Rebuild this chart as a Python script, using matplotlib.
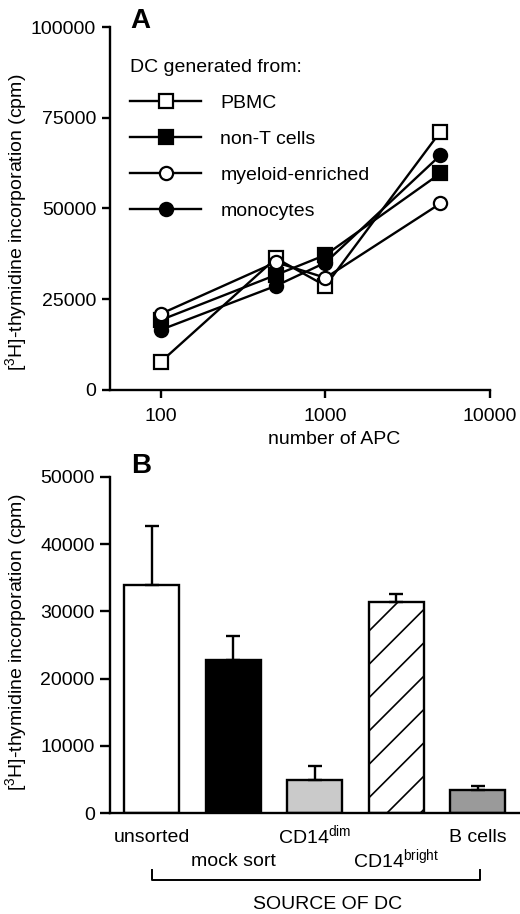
import matplotlib
matplotlib.use("Agg")
import matplotlib.pyplot as plt
from matplotlib.transforms import blended_transform_factory
from matplotlib.ticker import NullLocator

plt.rcParams['font.family'] = ['Liberation Sans', 'DejaVu Sans']
plt.rcParams['mathtext.fontset'] = 'custom'
plt.rcParams['mathtext.rm'] = 'Liberation Sans'
plt.rcParams['mathtext.it'] = 'Liberation Sans'
plt.rcParams['mathtext.bf'] = 'Liberation Sans:bold'
plt.rcParams['hatch.linewidth'] = 1.2

# ---------------- Panel A data ----------------
apc_numbers = [100, 500, 1000, 5000]
series_names = ["PBMC", "non-T cells", "myeloid-enriched", "monocytes"]
pbmc = [7800, 36300, 28700, 71200]
non_t = [19300, 31700, 37200, 59700]
myeloid = [21000, 35200, 30900, 51400]
monocytes = [16600, 28700, 35100, 64700]
series_values = [pbmc, non_t, myeloid, monocytes]
series_markers = ['s', 's', 'o', 'o']
series_filled = [False, True, False, True]
a_yticks = [0, 25000, 50000, 75000, 100000]
a_xticks = [100, 1000, 10000]
a_xticklabels = ["100", "1000", "10000"]

# ---------------- Panel B data ----------------
sources = ["unsorted", "mock sort", "CD14$^{\\mathrm{dim}}$", "CD14$^{\\mathrm{bright}}$", "B cells"]
means = [33900, 22700, 5000, 31400, 3400]
upper_err = [8800, 3700, 2000, 1200, 600]
bar_colors = ["white", "black", "#cacaca", "white", "#9a9a9a"]
bar_hatches = [None, None, None, "/", None]
b_yticks = [0, 10000, 20000, 30000, 40000, 50000]

W, H = 520, 914
fig = plt.figure(figsize=(W / 100, H / 100), dpi=100)

def fx(px):
    return px / W

def fy(py):
    return 1 - py / H

lw = 1.7
fs = 14

# ---------- Panel A ----------
axA = fig.add_axes([fx(110), fy(390), fx(490) - fx(110), fy(27) - fy(390)])
for vals, mk, filled, name in zip(series_values, series_markers, series_filled, series_names):
    axA.plot(apc_numbers, vals, color='black', lw=lw, marker=mk, markersize=9.5,
             markerfacecolor='black' if filled else 'white', markeredgecolor='black',
             markeredgewidth=1.6, label=name, clip_on=False, zorder=3)
axA.set_xscale('log')
axA.set_xlim(49, 10000)
axA.set_ylim(0, 100000)
axA.set_xticks(a_xticks)
axA.set_xticklabels(a_xticklabels)
axA.xaxis.set_minor_locator(NullLocator())
axA.set_yticks(a_yticks)
axA.set_yticklabels([str(v) for v in a_yticks])
for s in ['top', 'right']:
    axA.spines[s].set_visible(False)
for s in ['left', 'bottom']:
    axA.spines[s].set_linewidth(lw)
axA.tick_params(axis='both', labelsize=fs, width=lw, length=6)
axA.tick_params(axis='x', pad=7)
axA.tick_params(axis='y', pad=4)
axA.set_xlabel("number of APC", fontsize=fs)
axA.xaxis.set_label_coords(0.589, -0.135)
axA.xaxis.label.set_va('center')
axA.set_ylabel("[$^{3}$H]-thymidine incorporation (cpm)", fontsize=fs)
axA.yaxis.set_label_coords(-0.247, 0.463)
axA.yaxis.label.set_va('center')
leg = axA.legend(loc='upper left', bbox_to_anchor=(0.053, 0.911), frameon=False,
                 title="DC generated from:", title_fontsize=fs, fontsize=fs,
                 handlelength=3.66, handletextpad=0.98, labelspacing=0.94,
                 borderpad=0, borderaxespad=0, alignment='left')

fig.text(fx(130), fy(28), "A", fontsize=20, fontweight='bold', va='baseline', ha='left')

# ---------- Panel B ----------
axB = fig.add_axes([fx(110), fy(813.3), 1 - fx(110), fy(476.7) - fy(813.3)])
xpos = list(range(len(sources)))
bars = axB.bar(xpos, means, width=0.675, color=bar_colors, edgecolor='black', linewidth=lw,
               yerr=[[0] * len(means), upper_err], capsize=5,
               error_kw=dict(elinewidth=lw, capthick=lw, ecolor='black'), zorder=2)
for b, h in zip(bars, bar_hatches):
    if h:
        b.set_hatch(h)
axB.set_xlim(-0.51, 4.52)
axB.set_ylim(0, 50000)
axB.set_yticks(b_yticks)
axB.set_yticklabels([str(v) for v in b_yticks])
axB.set_xticks(xpos)
axB.set_xticklabels(sources)
for s in ['top', 'right']:
    axB.spines[s].set_visible(False)
for s in ['left', 'bottom']:
    axB.spines[s].set_linewidth(lw)
axB.tick_params(axis='y', labelsize=fs, width=lw, length=7, pad=4)
axB.tick_params(axis='x', labelsize=fs, length=0)
x_pads = [11, 28.5, 7.4, 24.5, 11]
for t, p in zip(axB.xaxis.get_major_ticks(), x_pads):
    t.set_pad(p)
axB.set_ylabel("[$^{3}$H]-thymidine incorporation (cpm)", fontsize=fs)
axB.yaxis.set_label_coords(-0.229, 0.507)
axB.yaxis.label.set_va('center')

trB = blended_transform_factory(axB.transData, axB.transAxes)
axB.plot([0, 0, 4.03, 4.03], [-0.168, -0.198, -0.198, -0.168], color='black', lw=1.4,
         transform=trB, clip_on=False)
axB.text(2.16, -0.272, "SOURCE OF DC", transform=trB, fontsize=fs, ha='center', va='center')

fig.text(fx(131), fy(473), "B", fontsize=20, fontweight='bold', va='baseline', ha='left')

fig.savefig("out.png", dpi=100)
